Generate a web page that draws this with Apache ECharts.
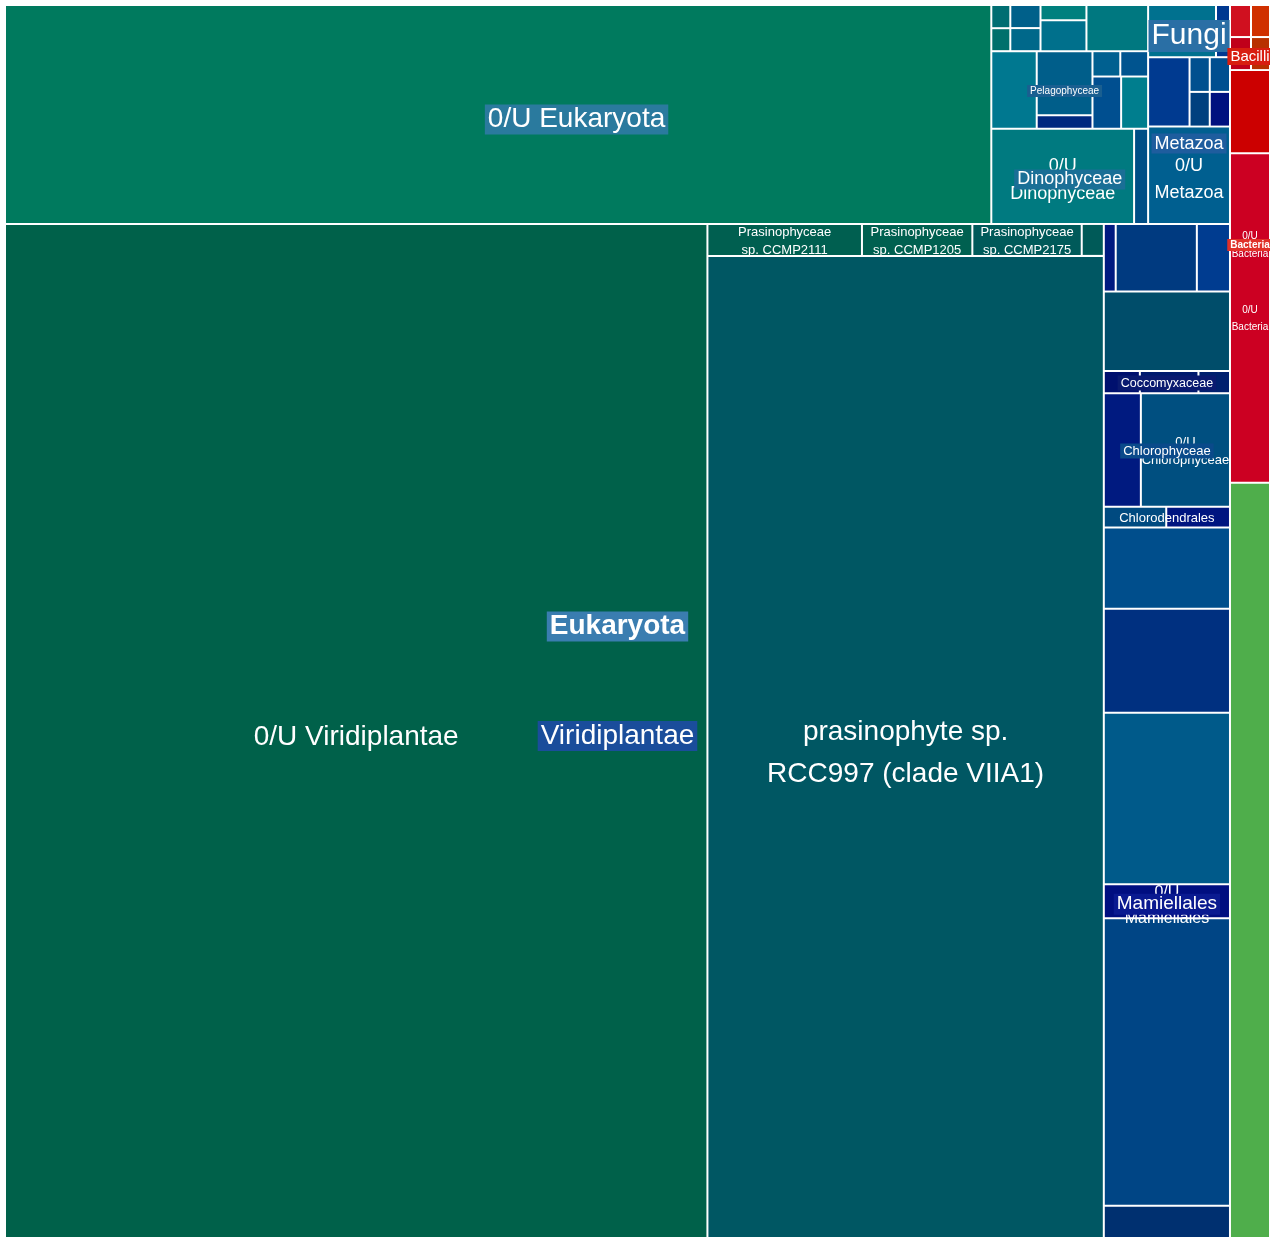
<!DOCTYPE html>
<html>
<head>
<meta charset="utf-8">
<script src="https://cdn.jsdelivr.net/npm/echarts@6/dist/echarts.min.js"></script>
<style>
html,body{margin:0;padding:0;background:#ffffff;}
#c{width:1270px;height:1238px;}
</style>
</head>
<body>
<div id="c"></div>
<script>
// ================= DATA (relative abundance, read from tile areas) =================
const domainNames = ['Eukaryota', 'Bacteria', ''];
const otherDomainValues = [30160];

// Bacteria
const bacteriaTopLeaves = [672, 608];
const bacilliLeaves = [693, 627];
const bacteriaOtherLeaves = [3320];
const bacteriaUnassigned = [13160];

// Eukaryota (non-Viridiplantae)
const eukaryotaUnassigned = [215496];
const euSmallColumnA = [440, 436];
const euSmallColumnB = [696, 696, 696, 1421, 2842];
const euSmallBlockLeaf = [3520];
const pelagophyceaeLeaves = [3564, 756];
const euSmallBlock = [704, 704, 1496, 1408];
const dinophyceaeNames = ['0/U Dinophyceae', ''];
const dinophyceaeLeaves = [13552, 1331];
const fungiLeaves = [3536, 728];
const metazoaMinorLeaves = [2870, 700, 700, 700, 700];
const metazoaUnassigned = [7954];

// Viridiplantae
const viridiplantaeUnassigned = [710814];
const prasinoNames = ['Prasinophyceae sp. CCMP2111', 'Prasinophyceae sp. CCMP1205',
  'Prasinophyceae sp. CCMP2175', '', 'prasinophyte sp. RCC997 (clade VIIA1)'];
const prasinoValues = [4928, 3520, 3488, 704, 388476];
const viriGroup1Leaves = [803, 5475, 2236];
const coccomyxaceaeLeaves = [800, 1300, 700];
const viriLeaf3 = [10000];
const chlorophyceaeNames = ['', '0/U Chlorophyceae'];
const chlorophyceaeLeaves = [4200, 10100];
const chlorodendralesLeaves = [1296, 1323];
const viriColumnLeaves = [10235, 13064];
const viriLeaf6 = [21600];
const mamiellalesUnassigned = [4300];
const viriLeaf8 = [36200];
const viriStrip = [4052];

// ================= STYLES =================
const FONT = '"Liberation Sans", Arial, Helvetica, sans-serif';
const COL = {
  other: ['#4fae4b'],
  bacteriaTop: ['#d0101f', '#d03000'],
  bacilli: ['#c0001a', '#b83000'],
  bacteriaOther: ['#cc0000'],
  bacteriaUnassigned: ['#cc0022'],
  eukUnassigned: ['#007a5e'],
  colA: ['#006e72', '#00706c'],
  colB: ['#00608a', '#00688a', '#00807e', '#00708c', '#007880'],
  blockLeaf: ['#007890'],
  pelago: ['#005e8a', '#00287f'],
  block: ['#006090', '#00548f', '#004f90', '#007e8e'],
  dino: ['#007a80', '#004e86'],
  fungi: ['#00718f', '#003890'],
  metazoaMinor: ['#003a90', '#00508f', '#004f90', '#00407f', '#00107f'],
  metazoaUnassigned: ['#005f90'],
  viriUnassigned: ['#00614a'],
  prasino: ['#005f50', '#006050', '#005a5a', '#005a58', '#005763'],
  group1: ['#001a80', '#003a80', '#003c90'],
  cocco: ['#00106e', '#001a6e', '#00206e'],
  leaf3: ['#004d6a'],
  chloro: ['#001a80', '#004f80'],
  chlorod: ['#004a80', '#001580'],
  col2: ['#004e8c', '#003080'],
  leaf6: ['#005a8a'],
  mam: ['#000e80'],
  leaf8: ['#004585'],
  strip: ['#003070']
};

// label specs: t text, s font size, b bold, bg background, lh line height, group = only on a parent tile
const LABELS = {
  'Eukaryota': [{t: 'Eukaryota', s: 28, b: true, bg: '#3a7db0'}],
  'Viridiplantae': [{t: 'Viridiplantae', s: 28, bg: '#1a4d9b'}],
  '0/U Eukaryota': [{t: '0/U Eukaryota', s: 28, bg: '#2a7a9e', group: true}],
  '0/U Viridiplantae': [{t: '0/U Viridiplantae', s: 28}],
  'prasinophyte sp. RCC997 (clade VIIA1)': [{t: 'prasinophyte sp.\nRCC997 (clade VIIA1)', s: 28, lh: 42}],
  'Prasinophyceae sp. CCMP2111': [{t: 'Prasinophyceae\nsp. CCMP2111', s: 13, lh: 18}],
  'Prasinophyceae sp. CCMP1205': [{t: 'Prasinophyceae\nsp. CCMP1205', s: 13, lh: 18}],
  'Prasinophyceae sp. CCMP2175': [{t: 'Prasinophyceae\nsp. CCMP2175', s: 13, lh: 18}],
  'Fungi': [{t: 'Fungi', s: 30, bg: '#2a6fa5'}],
  'Metazoa': [{t: 'Metazoa', s: 18, bg: '#1e5d9e'}],
  '0/U Metazoa': [{t: '0/U\nMetazoa', s: 18, lh: 27}],
  'Dinophyceae': [{t: 'Dinophyceae', s: 18, bg: '#1a6f96'}],
  '0/U Dinophyceae': [{t: '0/U\nDinophyceae', s: 18, lh: 28}],
  'Pelagophyceae': [{t: 'Pelagophyceae', s: 10, bg: '#1a5f90'}],
  'Bacteria': [{t: '0/U\nBacteria', s: 10, lh: 18}, {t: 'Bacteria', s: 10, b: true, bg: '#e03028'}],
  'Bacilli': [{t: 'Bacilli', s: 15, bg: '#d81e10'}],
  '0/U Bacteria': [{t: '0/U\nBacteria', s: 10, lh: 17}],
  'Coccomyxaceae': [{t: 'Coccomyxaceae', s: 12.5, bg: '#0a1a70'}],
  'Chlorophyceae': [{t: 'Chlorophyceae', s: 13, bg: '#0a4a8a'}],
  '0/U Chlorophyceae': [{t: '0/U\nChlorophyceae', s: 13, lh: 18}],
  'Chlorodendrales': [{t: 'Chlorodendrales', s: 13}],
  'Mamiellales': [{t: 'Mamiellales', s: 19, bg: '#0a1a90'}],
  '0/U Mamiellales': [{t: '0/U\nMamiellales', s: 16, lh: 26}]
};

// ================= TREE BUILDING =================
const L = (name, value, color) => ({name, value, itemStyle: {color, borderWidth: 1, borderColor: '#ffffff'}});
const G = (name, children) => ({name, children, itemStyle: {borderWidth: 0, gapWidth: 0, borderColor: '#ffffff'}});
const LS = (values, colors, names) => values.map((v, i) => L(names ? names[i] : '', v, colors[i % colors.length]));

const bacteria = G(domainNames[1], [
  G('', LS(bacteriaTopLeaves, COL.bacteriaTop)),
  G('Bacilli', LS(bacilliLeaves, COL.bacilli)),
  L('', bacteriaOtherLeaves[0], COL.bacteriaOther[0]),
  L('0/U Bacteria', bacteriaUnassigned[0], COL.bacteriaUnassigned[0])
]);
const otherDomain = L(domainNames[2], otherDomainValues[0], COL.other[0]);

const eukaryota = G(domainNames[0], [
  G('', [
    G('0/U Eukaryota', [
      L('0/U Eukaryota', eukaryotaUnassigned[0], COL.eukUnassigned[0]),
      G('', [
        G('', LS(euSmallColumnA, COL.colA)),
        G('', LS(euSmallColumnB, COL.colB)),
        G('', [
          G('', [
            G('', [L('', euSmallBlockLeaf[0], COL.blockLeaf[0]), G('Pelagophyceae', LS(pelagophyceaeLeaves, COL.pelago))]),
            G('', LS(euSmallBlock, COL.block))
          ]),
          G('Dinophyceae', LS(dinophyceaeLeaves, COL.dino, dinophyceaeNames))
        ])
      ])
    ]),
    G('', [
      G('Fungi', LS(fungiLeaves, COL.fungi)),
      G('Metazoa', [
        G('', LS(metazoaMinorLeaves, COL.metazoaMinor)),
        L('0/U Metazoa', metazoaUnassigned[0], COL.metazoaUnassigned[0])
      ])
    ])
  ]),
  G('Viridiplantae', [
    G('', [
      L('0/U Viridiplantae', viridiplantaeUnassigned[0], COL.viriUnassigned[0]),
      G('', LS(prasinoValues, COL.prasino, prasinoNames))
    ]),
    G('', [
      G('', [G('', LS(viriGroup1Leaves.slice(0, 2), COL.group1)), L('', viriGroup1Leaves[2], COL.group1[2])]),
      L('', viriLeaf3[0], COL.leaf3[0]),
      G('Coccomyxaceae', LS(coccomyxaceaeLeaves, COL.cocco)),
      G('Chlorophyceae', LS(chlorophyceaeLeaves, COL.chloro, chlorophyceaeNames)),
      G('Chlorodendrales', LS(chlorodendralesLeaves, COL.chlorod)),
      G('', LS(viriColumnLeaves, COL.col2)),
      L('', viriLeaf6[0], COL.leaf6[0]),
      G('Mamiellales', [L('0/U Mamiellales', mamiellalesUnassigned[0], COL.mam[0])]),
      L('', viriLeaf8[0], COL.leaf8[0]),
      L('', viriStrip[0], COL.strip[0])
    ])
  ])
]);

// ================= CHART =================
const chart = echarts.init(document.getElementById('c'), null, {renderer: 'canvas', width: 1270, height: 1238});
chart.setOption({
  animation: false,
  backgroundColor: '#ffffff',
  series: [{
    type: 'treemap',
    left: 5, top: 5, width: 1265, height: 1233,
    roam: false,
    nodeClick: false,
    breadcrumb: {show: false},
    squareRatio: 1,
    sort: false,
    visibleMin: 0,
    label: {show: false},
    upperLabel: {show: false},
    itemStyle: {borderWidth: 0, gapWidth: 0, borderColor: '#ffffff'},
    emphasis: {disabled: true},
    data: [eukaryota, bacteria, otherDomain]
  }]
});

// Place labels at the centres of the tiles laid out by ECharts
const sm = chart.getModel().getSeriesByIndex(0);
const tree = sm.getData().tree;
const li = sm.layoutInfo || {x: 5, y: 5};
const items = [];
(function walk(node, ox, oy) {
  const l = node.getLayout();
  if (!l) return;
  const x = ox + (l.x || 0), y = oy + (l.y || 0);
  const spec = node.depth > 0 ? LABELS[node.name] : null;
  const isParent = node.children && node.children.length > 0;
  if (spec) spec.forEach((s, k) => {
    if (s.group && !isParent) return;
    items.push({depth: node.depth, k, cx: x + l.width / 2, cy: y + l.height / 2, s});
  });
  (node.children || []).forEach(c => walk(c, x, y));
})(tree.root, li.x, li.y);
items.sort((a, b) => (b.depth - a.depth) || (a.k - b.k));
const dyFor = s => Math.round(s.s * (s.s < 15 ? 0.1 : (s.bg ? 0.17 : 0.22)));
const graphics = items.map((it, i) => ({
  type: 'text', x: it.cx, y: it.cy + dyFor(it.s), z: 100 + i, silent: true,
  style: {
    text: it.s.t, fill: '#ffffff', fontSize: it.s.s, fontWeight: it.s.b ? 'bold' : 'normal', fontFamily: FONT,
    align: 'center', verticalAlign: 'middle', textAlign: 'center', textVerticalAlign: 'middle',
    lineHeight: it.s.lh || Math.round(it.s.s * (it.s.bg ? 1.0 : 1.2)),
    backgroundColor: it.s.bg || null, padding: it.s.bg ? [1, 3] : 0
  }
}));
chart.setOption({graphic: {elements: graphics}});
</script>
</body>
</html>
